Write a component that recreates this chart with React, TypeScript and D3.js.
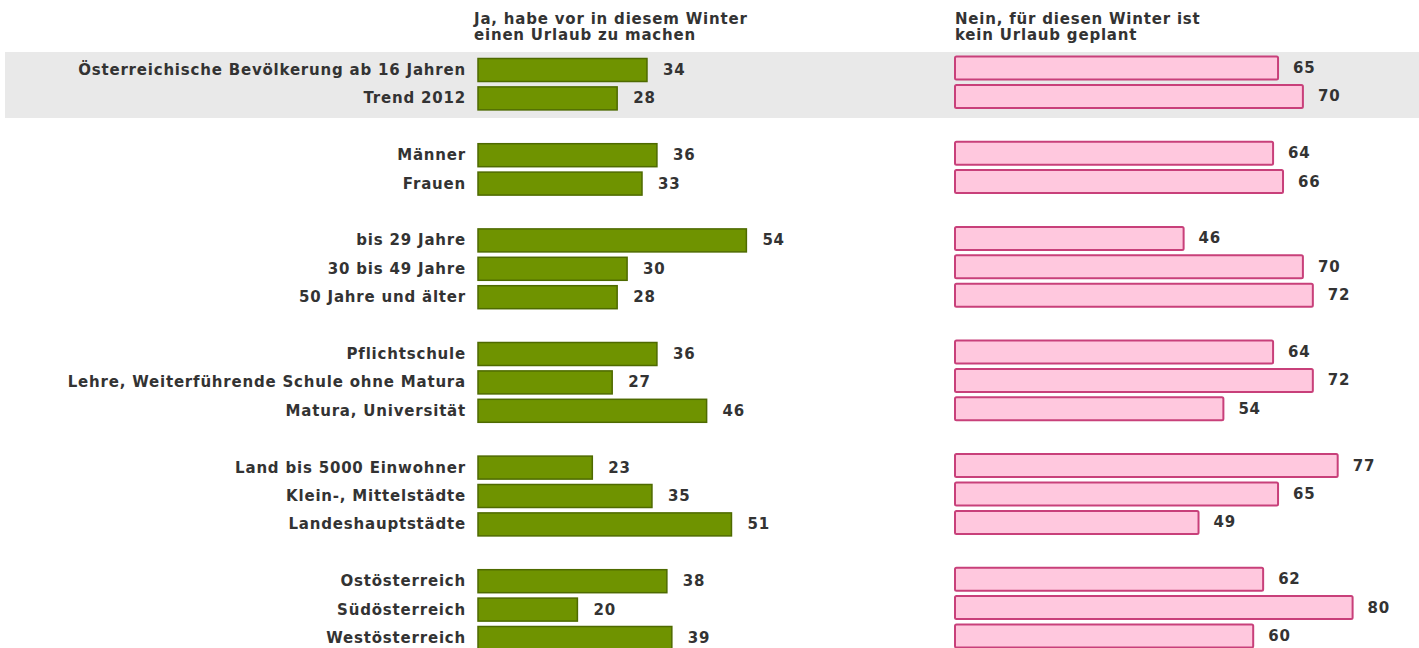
import React from 'react'
import * as d3 from 'd3'

const categories = [
  'Österreichische Bevölkerung ab 16 Jahren',
  'Trend 2012',
  'Männer',
  'Frauen',
  'bis 29 Jahre',
  '30 bis 49 Jahre',
  '50 Jahre und älter',
  'Pflichtschule',
  'Lehre, Weiterführende Schule ohne Matura',
  'Matura, Universität',
  'Land bis 5000 Einwohner',
  'Klein-, Mittelstädte',
  'Landeshauptstädte',
  'Ostösterreich',
  'Südösterreich',
  'Westösterreich',
]
// row slot of each category (gaps between groups)
const slots = [0, 1, 3, 4, 6, 7, 8, 10, 11, 12, 14, 15, 16, 18, 19, 20]
const jaValues = [34, 28, 36, 33, 54, 30, 28, 36, 27, 46, 23, 35, 51, 38, 20, 39]
const neinValues = [65, 70, 64, 66, 46, 70, 72, 64, 72, 54, 77, 65, 49, 62, 80, 60]
const jaTitle = ['Ja, habe vor in diesem Winter', 'einen Urlaub zu machen']
const neinTitle = ['Nein, für diesen Winter ist', 'kein Urlaub geplant']

const W = 1419
const H = 648
const font = "'DejaVu Sans', sans-serif"
const textColor = '#333'
const fs = 15
const ls = 0.8

const App = () => {
  const y = d3.scaleLinear().domain([0, 20]).range([70, 638])
  const xJa = d3.scaleLinear().domain([0, 100]).range([478, 975])
  const xNein = d3.scaleLinear().domain([0, 100]).range([955, 1452])
  const barH = 23

  return (
    <svg width={W} height={H} style={{position: 'absolute', left: 0, top: 0}}>
      <rect x={5} y={52} width={W - 5} height={66} fill="#e9e9e9" />
      <g fontFamily={font} fontWeight="bold" fontSize={fs} letterSpacing={ls} fill={textColor}>
        {jaTitle.map((t, i) => (
          <text key={'j' + i} x={474} y={24 + i * 16}>{t}</text>
        ))}
        {neinTitle.map((t, i) => (
          <text key={'n' + i} x={955} y={24 + i * 16}>{t}</text>
        ))}
        {categories.map((c, i) => (
          <text key={c} x={466} y={y(slots[i]) + 5} textAnchor="end">{c}</text>
        ))}
      </g>
      {jaValues.map((v, i) => (
        <g key={'ja' + i}>
          <rect x={xJa(0)} y={y(slots[i]) - barH / 2} width={xJa(v) - xJa(0)} height={barH}
            fill="#6f9300" stroke="#4e6a00" strokeWidth={1.5} />
          <text x={xJa(v) + 16} y={y(slots[i]) + 5} fontFamily={font} fontWeight="bold"
            fontSize={fs} letterSpacing={ls} fill={textColor}>{v}</text>
        </g>
      ))}
      {neinValues.map((v, i) => (
        <g key={'nein' + i}>
          <rect x={xNein(0)} y={y(slots[i]) - barH / 2 - 2} width={xNein(v) - xNein(0)} height={barH}
            fill="#ffc8de" stroke="#c8407a" strokeWidth={2} rx={1.5} />
          <text x={xNein(v) + 15} y={y(slots[i]) + 3} fontFamily={font} fontWeight="bold"
            fontSize={fs} letterSpacing={ls} fill={textColor}>{v}</text>
        </g>
      ))}
    </svg>
  )
}

export default App
